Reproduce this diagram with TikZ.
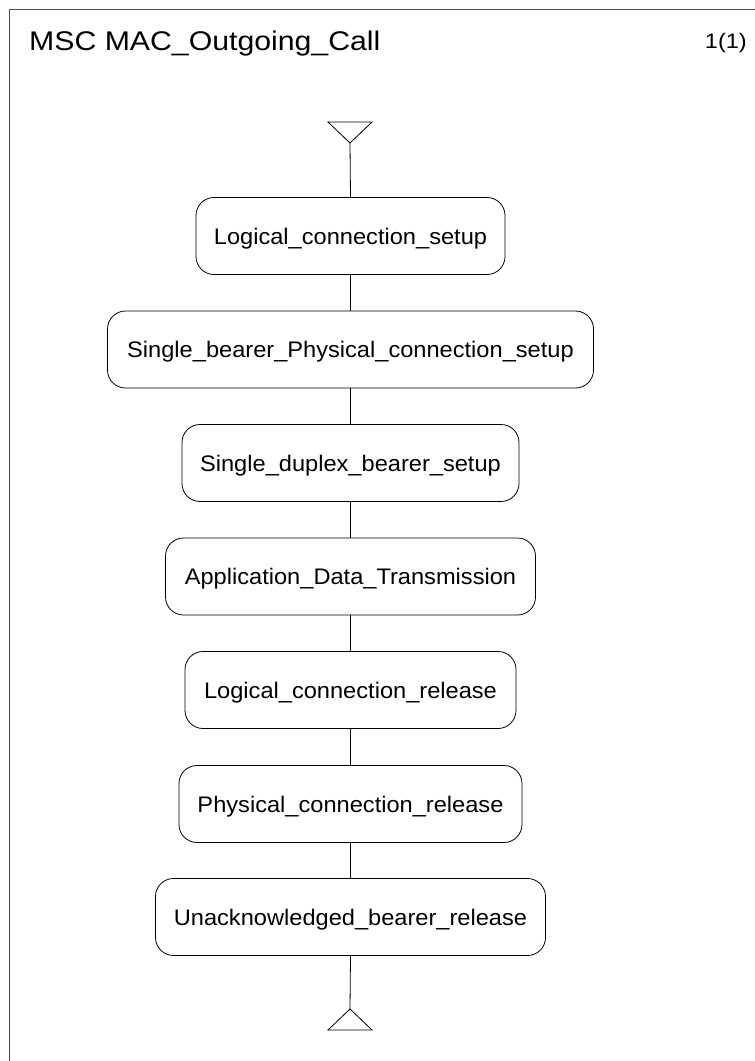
\documentclass[tikz,border=0pt]{standalone}
\usepackage{fontspec}
\setmainfont{Liberation Sans}
\usepackage{graphicx}
\begin{document}
\begin{tikzpicture}[x=1pt,y=-1pt,
  frame/.style={line width=1.1pt,draw=black!70},
  conn/.style={line width=0.8pt},
  refbox/.style={draw,line width=0.8pt,rounded corners=18pt,inner sep=0pt,
     minimum height=77pt,text height=16.1pt,text depth=0pt,
     font=\fontsize{22.5}{27}\selectfont},
  titletext/.style={inner sep=0pt,font=\fontsize{27}{32}\selectfont},
  pagetext/.style={inner sep=0pt,font=\fontsize{21}{25}\selectfont}]
\useasboundingbox (0,0) rectangle (755,1061);
\fill[white] (0,0) rectangle (755,1061);
% frame
\draw[frame] (9.3,1061) -- (9.3,9.3) -- (755,9.3);
% title
\node[titletext,anchor=base west] (title) at (29,50) {\scalebox{1.12}[1]{MSC MAC\_Outgoing\_Call}};
\node[pagetext,anchor=base east] (page) at (747,48.5) {\scalebox{1.12}[1]{1(1)}};
% start triangle
\coordinate (start) at (350,143);
\draw[conn] (328,122) -- (372,122) -- (start) -- cycle;
% boxes
\node[refbox,minimum width=309pt] (b1) at (350.5,236) {\scalebox{1.05}[1]{Logical\_connection\_setup}};
\node[refbox,minimum width=486pt] (b2) at (350.5,349.5) {\scalebox{1.05}[1]{Single\_bearer\_Physical\_connection\_setup}};
\node[refbox,minimum width=337pt] (b3) at (350.5,463) {\scalebox{1.05}[1]{Single\_duplex\_bearer\_setup}};
\node[refbox,minimum width=370pt] (b4) at (350.5,576.5) {\scalebox{1.05}[1]{Application\_Data\_Transmission}};
\node[refbox,minimum width=331pt] (b5) at (350.5,690) {\scalebox{1.05}[1]{Logical\_connection\_release}};
\node[refbox,minimum width=343pt] (b6) at (350.5,804) {\scalebox{1.05}[1]{Physical\_connection\_release}};
\node[refbox,minimum width=390pt] (b7) at (350.5,917) {\scalebox{1.05}[1]{Unacknowledged\_bearer\_release}};
% end triangle
\coordinate (stop) at (350,1009);
\draw[conn] (stop) -- (372,1030) -- (328,1030) -- cycle;
% connectors
\draw[conn] (start) -- (b1.north);
\draw[conn] (b1) -- (b2);
\draw[conn] (b2) -- (b3);
\draw[conn] (b3) -- (b4);
\draw[conn] (b4) -- (b5);
\draw[conn] (b5) -- (b6);
\draw[conn] (b6) -- (b7);
\draw[conn] (b7.south) -- (stop);
\end{tikzpicture}
\end{document}
